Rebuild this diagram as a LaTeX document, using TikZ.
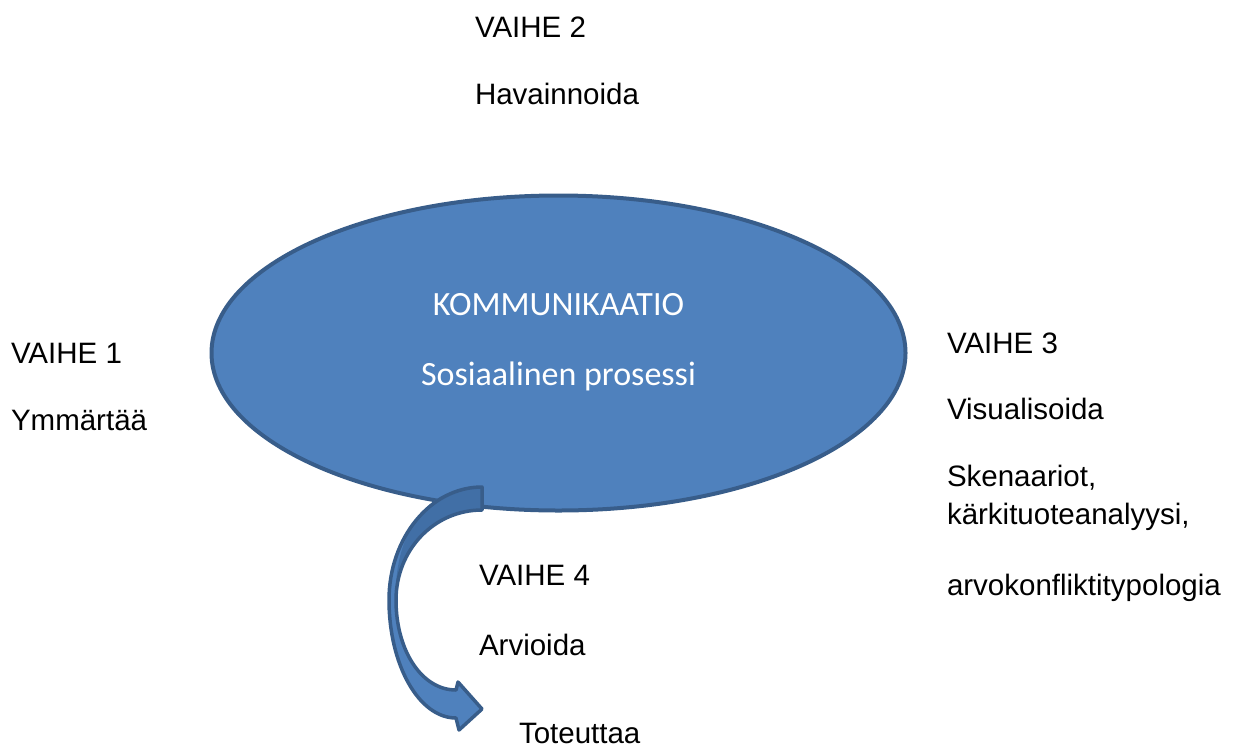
\documentclass[tikz,border=0pt]{standalone}
\usepackage{fontspec}
\usetikzlibrary{shapes.geometric}
\newfontfamily\labelfont{Liberation Sans}
\newfontfamily\innerfont{Carlito}
\definecolor{bluefill}{HTML}{4F81BD}
\definecolor{blueedge}{HTML}{385D8A}
\definecolor{blueback}{HTML}{416FA6}
\tikzset{
  phase/.style={anchor=base west, inner sep=0pt, outer sep=0pt,
    font=\labelfont\fontsize{29.5}{35}\selectfont, text=black},
  inner/.style={anchor=base, inner sep=0pt, outer sep=0pt,
    font=\innerfont\fontsize{34}{40}\selectfont, text=white},
  bubble/.style={ellipse, draw=blueedge, fill=bluefill, line width=4pt,
    minimum width=694pt, minimum height=315pt, inner sep=0pt},
  arrowedge/.style={draw=blueedge, line width=3.5pt, line join=round}
}
\begin{document}
\begin{tikzpicture}[x=1pt, y=-1pt]
\useasboundingbox (0,0) rectangle (1238,747);

% central ellipse
\node[bubble] (comm) at (558.5,353) {};
\node[inner] (komm) at (558.5,315) {KOMMUNIKAATIO};
\node[inner] (sos) at (558.5,385) {Sosiaalinen prosessi};

% curved block arrow from the ellipse down to "Toteuttaa"
\coordinate (atop) at (482,487);
\coordinate (atip) at (482,709);
\fill[bluefill] (atop) -- (482,510)
  .. controls (434,510) and (396,550) .. (396,600)
  .. controls (396,651) and (422,690) .. (456,690)
  -- (458,682) -- (atip) -- (459,730) -- (456,718)
  .. controls (419,718) and (389,665) .. (389,600)
  .. controls (389,537.6) and (430.6,487) .. (atop) -- cycle;
% darker back face of the arrow
\fill[blueback] (atop) -- (482,510)
  .. controls (434,510) and (396,550) .. (396,600)
  .. controls (394,555) and (410,515) .. (440,497)
  .. controls (455,490) and (470,487) .. (atop) -- cycle;
\path[arrowedge] (atop) -- (482,510)
  .. controls (434,510) and (396,550) .. (396,600)
  .. controls (396,651) and (422,690) .. (456,690)
  -- (458,682) -- (atip) -- (459,730) -- (456,718)
  .. controls (419,718) and (389,665) .. (389,600)
  .. controls (389,537.6) and (430.6,487) .. (atop) -- cycle;

% phase labels
\node[phase] (v2) at (475,37) {VAIHE 2};
\node[phase] (v2a) at (475,104) {Havainnoida};
\node[phase] (v1) at (11,363) {VAIHE 1};
\node[phase] (v1a) at (11,430) {Ymmärtää};
\node[phase] (v3) at (947,353) {VAIHE 3};
\node[phase] (v3a) at (947,419) {Visualisoida};
\node[phase] (v3b) at (947,486) {Skenaariot,};
\node[phase] (v3c) at (947,524) {kärkituoteanalyysi,};
\node[phase] (v3d) at (947,595) {arvokonfliktitypologia};
\node[phase] (v4) at (479,585) {VAIHE 4};
\node[phase] (v4a) at (479,655) {Arvioida};
\node[phase] (tot) at (519,743) {Toteuttaa};
\end{tikzpicture}
\end{document}
